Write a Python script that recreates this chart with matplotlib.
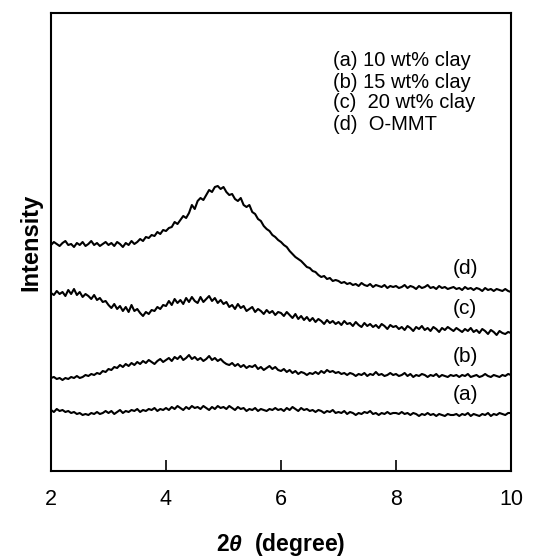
import numpy as np
import matplotlib
matplotlib.use("Agg")
import matplotlib.pyplot as plt

plt.rcParams['font.family'] = ['Liberation Sans', 'DejaVu Sans']
plt.rcParams['mathtext.fontset'] = 'custom'
plt.rcParams['mathtext.it'] = 'Liberation Sans:italic:bold'
plt.rcParams['mathtext.rm'] = 'Liberation Sans:bold'

two_theta = np.linspace(2.0, 10.0, 161)

intensity_d = [
    226, 229, 227, 225, 228, 230, 226, 227, 224, 228, 226, 229, 225, 227, 230, 226, 228, 225, 227, 229,
    226, 228, 225, 229, 227, 224, 228, 226, 230, 227, 229, 232, 230, 234, 233, 236, 235, 239, 237, 241,
    240, 243, 244, 249, 247, 251, 255, 253, 258, 266, 262, 270, 273, 271, 276, 281, 279, 284, 285, 282,
    284, 279, 276, 277, 272, 270, 273, 266, 264, 266, 259, 257, 252, 250, 245, 242, 240, 236, 234, 231,
    229, 226, 224, 220, 217, 214, 212, 210, 207, 204, 203, 200, 199, 196, 194, 195, 192, 193, 190, 191,
    190, 188, 189, 187, 188, 186, 187, 185, 188, 186, 185, 187, 184, 186, 185, 184, 186, 183, 185, 184,
    185, 183, 184, 186, 183, 185, 184, 182, 185, 183, 184, 186, 183, 184, 182, 185, 183, 184, 182, 183,
    184, 182, 183, 181, 184, 182, 183, 181, 183, 182, 180, 183, 181, 182, 180, 182, 181, 180, 182, 180, 179,
]

intensity_c = [
    178, 176, 180, 177, 179, 175, 181, 177, 182, 176, 179, 174, 177, 175, 172, 176, 171, 173, 169, 170,
    166, 163, 167, 162, 165, 160, 164, 159, 166, 160, 162, 158, 155, 159, 157, 161, 160, 164, 162, 166,
    165, 170, 166, 172, 168, 171, 167, 173, 169, 174, 170, 168, 174, 169, 172, 175, 170, 173, 168, 171,
    167, 169, 164, 166, 162, 167, 163, 165, 160, 162, 164, 159, 162, 160, 157, 161, 158, 160, 156, 159,
    158, 155, 159, 156, 153, 157, 152, 155, 151, 154, 150, 153, 149, 152, 150, 147, 151, 148, 150, 147,
    149, 146, 150, 147, 148, 145, 149, 146, 144, 148, 145, 147, 144, 146, 143, 147, 145, 142, 146, 144,
    145, 142, 144, 141, 145, 143, 140, 144, 142, 145, 141, 143, 140, 144, 142, 139, 143, 141, 144, 142,
    140, 143, 141, 139, 142, 140, 143, 139, 141, 138, 142, 140, 137, 141, 139, 136, 140, 138, 137, 139, 138,
]

intensity_b = [
    93, 94, 92, 93, 91, 93, 92, 94, 93, 95, 93, 94, 96, 95, 97, 96, 98, 97, 100, 99,
    102, 101, 104, 103, 106, 104, 107, 105, 108, 106, 109, 107, 110, 108, 111, 109, 107, 110, 112, 109,
    111, 113, 110, 114, 112, 115, 111, 113, 116, 112, 114, 111, 113, 110, 112, 115, 111, 113, 110, 112,
    109, 107, 106, 108, 105, 107, 104, 106, 103, 105, 104, 106, 102, 104, 101, 103, 105, 102, 104, 101,
    100, 102, 99, 101, 98, 100, 97, 99, 98, 96, 98, 97, 99, 97, 100, 98, 101, 99, 100, 98,
    99, 97, 98, 96, 98, 97, 95, 97, 96, 98, 95, 97, 96, 99, 96, 97, 95, 96, 98, 96,
    97, 95, 96, 98, 95, 97, 94, 96, 95, 97, 96, 94, 96, 95, 97, 94, 96, 95, 94, 96,
    95, 96, 94, 96, 95, 97, 94, 95, 96, 94, 95, 97, 95, 94, 96, 95, 94, 96, 95, 97, 96,
]

intensity_a = [
    61, 59, 62, 60, 61, 59, 60, 58, 59, 57, 58, 56, 57, 56, 58, 57, 59, 57, 58, 60,
    58, 60, 57, 59, 61, 58, 60, 59, 61, 60, 62, 59, 61, 60, 62, 61, 63, 60, 62, 61,
    63, 61, 64, 62, 65, 63, 61, 64, 62, 65, 63, 64, 62, 65, 63, 61, 64, 62, 65, 63,
    64, 62, 65, 63, 61, 64, 62, 63, 60, 62, 61, 63, 60, 62, 61, 60, 62, 61, 63, 61,
    62, 60, 63, 61, 64, 62, 60, 63, 61, 62, 60, 61, 59, 61, 60, 58, 60, 59, 61, 58,
    59, 58, 60, 57, 59, 58, 56, 58, 57, 59, 58, 60, 57, 58, 56, 58, 57, 59, 57, 58,
    58, 57, 59, 57, 58, 56, 58, 57, 55, 57, 56, 58, 56, 57, 55, 57, 56, 55, 57, 56,
    56, 57, 55, 57, 56, 58, 55, 57, 56, 55, 57, 56, 58, 55, 57, 56, 58, 57, 56, 58, 58,
]

series = [intensity_a, intensity_b, intensity_c, intensity_d]
curve_tags = ['(a)', '(b)', '(c)', '(d)']
legend_lines = ['(a) 10 wt% clay', '(b) 15 wt% clay', '(c)  20 wt% clay', '(d)  O-MMT']
x_ticks = [2, 4, 6, 8, 10]

fig = plt.figure(figsize=(5.36, 5.58), dpi=100)
ax = fig.add_axes([51 / 536, 1 - 471 / 558, 460 / 536, 458 / 558])

for ys in series:
    ax.plot(two_theta, ys, color='black', lw=1.5)

ax.set_xlim(2, 10)
ax.set_ylim(0, 458)
ax.set_xticks(x_ticks)
ax.set_xticklabels([str(t) for t in x_ticks], fontsize=15.5)
ax.set_yticks([])
ax.tick_params(axis='x', direction='in', length=8, width=1.2, pad=13)
for s in ax.spines.values():
    s.set_linewidth(1.5)

# curve tags
tag_y = [77, 114, 163, 203]
for t, y in zip(curve_tags, tag_y):
    ax.text(9.2, y, t, fontsize=15, ha='center', va='center')

# legend text
leg_y = [411, 389, 368, 346]
for t, y in zip(legend_lines, leg_y):
    ax.text(6.9, y, t, fontsize=14.5, ha='left', va='center')

ax.set_xlabel(r'2$\theta$  (degree)', fontsize=16.5, fontweight='bold', labelpad=15)
ax.set_ylabel('Intensity', fontsize=17, fontweight='bold', labelpad=6)

fig.savefig('out.png', dpi=100)
